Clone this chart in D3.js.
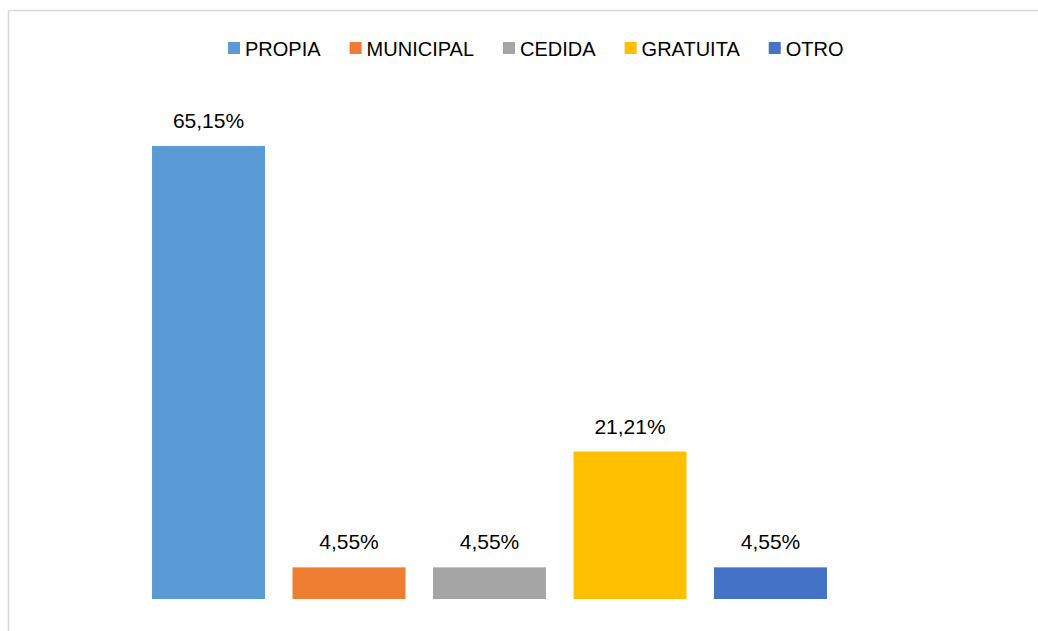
<!DOCTYPE html>
<html>
<head>
<meta charset="utf-8">
<script src="https://cdn.jsdelivr.net/npm/d3@7"></script>
<style>
  html, body { margin: 0; padding: 0; background: #fff; }
  svg { display: block; }
  text { font-family: "Liberation Sans", Arial, sans-serif; fill: #000; }
</style>
</head>
<body>
<svg id="chart" width="1038" height="631"></svg>
<script>
const categories = ["PROPIA", "MUNICIPAL", "CEDIDA", "GRATUITA", "OTRO"];
const values = [65.15, 4.55, 4.55, 21.21, 4.55];
const valueLabels = ["65,15%", "4,55%", "4,55%", "21,21%", "4,55%"];
const colors = ["#5B9BD5", "#ED7D31", "#A5A5A5", "#FFC000", "#4472C4"];

const svg = d3.select("#chart");

// chart frame (top and left edges visible)
svg.append("path")
  .attr("d", "M8.5,631 L8.5,10.5 L1038,10.5")
  .attr("fill", "none")
  .attr("stroke", "#d9d9d9")
  .attr("stroke-width", 1.5);

const x = d3.scaleBand()
  .domain(categories)
  .range([138.25, 840.75])
  .paddingInner(0.196)
  .paddingOuter(0.098);

const y = d3.scaleLinear()
  .domain([0, 70])
  .range([599, 112.3]);

const g = svg.append("g");

g.selectAll("rect.bar")
  .data(categories)
  .join("rect")
  .attr("class", "bar")
  .attr("x", d => x(d))
  .attr("width", x.bandwidth())
  .attr("y", (d, i) => y(values[i]))
  .attr("height", (d, i) => y(0) - y(values[i]))
  .attr("fill", (d, i) => colors[i]);

g.selectAll("text.lbl")
  .data(categories)
  .join("text")
  .attr("class", "lbl")
  .attr("x", d => x(d) + x.bandwidth() / 2)
  .attr("y", (d, i) => y(values[i]) - 18)
  .attr("text-anchor", "middle")
  .attr("font-size", 21)
  .text((d, i) => valueLabels[i]);

// legend
const legend = svg.append("g");
let cx = 228;
categories.forEach((c, i) => {
  const item = legend.append("g");
  item.append("rect")
    .attr("x", cx).attr("y", 42)
    .attr("width", 12).attr("height", 12)
    .attr("fill", colors[i]);
  const t = item.append("text")
    .attr("x", cx + 17).attr("y", 55.5)
    .attr("font-size", 20)
    .text(c);
  const w = t.node().getComputedTextLength();
  cx += 17 + w + 29;
});
</script>
</body>
</html>
